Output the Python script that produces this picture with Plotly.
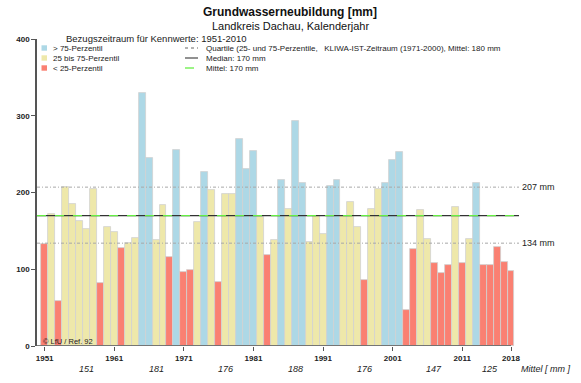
import plotly.graph_objects as go

# ---------------- data ----------------
years = list(range(1951, 2019))
values = [133, 172, 59, 207, 185, 163, 152, 205, 82, 155,
          148, 128, 134, 141, 330, 245, 138, 184, 116, 255,
          96, 99, 162, 227, 203, 83, 198, 198, 270, 230,
          254, 168, 119, 138, 216, 179, 293, 213, 136, 169,
          146, 208, 216, 169, 187, 155, 86, 179, 205, 212,
          243, 253, 47, 126, 177, 139, 108, 95, 106, 181,
          108, 139, 212, 105, 105, 129, 109, 98]
categories = ["L", "M", "L", "M", "M", "M", "M", "M", "L", "M",
              "M", "L", "M", "M", "H", "H", "M", "M", "L", "H",
              "L", "L", "M", "H", "M", "L", "M", "M", "H", "H",
              "H", "M", "L", "M", "H", "M", "H", "H", "M", "M",
              "M", "H", "H", "M", "M", "M", "L", "M", "M", "H",
              "H", "H", "L", "L", "M", "M", "L", "L", "L", "M",
              "L", "M", "H", "L", "L", "L", "L", "L"]
cat_labels = {"H": "> 75-Perzentil", "M": "25 bis 75-Perzentil", "L": "< 25-Perzentil"}
cat_colors = {"H": "#ADD8E6", "M": "#EEE8AA", "L": "#FA8072"}

q75 = 207
q25 = 134
median = 170
mean = 170
kliwa_mean = 180

x_ticks = [1951, 1961, 1971, 1981, 1991, 2001, 2011, 2018]
y_ticks = [0, 100, 200, 300, 400]

decade_starts = [1951, 1961, 1971, 1981, 1991, 2001, 2011]
decade_means = [151, 181, 176, 188, 176, 147, 125]

# ---------------- layout helpers ----------------
W, H = 581, 383
L, R, T, B = 37, 62, 39, 37
PW, PH = W - L - R, H - T - B
XMIN, XMAX = 1949.9, 2019.15


def px(x):
    return (x - L) / PW


def py(y):
    return (H - B - y) / PH


FONT = "Liberation Sans, Arial, sans-serif"

fig = go.Figure()
fig.add_trace(go.Bar(
    x=years, y=values, width=1.0,
    marker=dict(color=[cat_colors[c] for c in categories],
                line=dict(color="#d0d0d0", width=0.8)),
    showlegend=False, hoverinfo="x+y",
))

QDASH = "3px,2px,1px,2px"
shapes = []
# quartile lines
for q in (q75, q25):
    shapes.append(dict(type="line", xref="paper", yref="y", x0=0, x1=1, y0=q, y1=q,
                       line=dict(color="#a8a8a8", width=1, dash=QDASH)))
shapes.append(dict(type="line", xref="paper", yref="y", x0=0, x1=1, y0=median, y1=median,
                   line=dict(color="#333333", width=1.3)))
shapes.append(dict(type="line", xref="paper", yref="y", x0=0, x1=1, y0=mean, y1=mean,
                   line=dict(color="#66ee44", width=1.3, dash="dash")))
# x axis line
shapes.append(dict(type="line", xref="x", yref="y", x0=XMIN, x1=x_ticks[-1], y0=0, y1=0,
                   line=dict(color="#555555", width=1.5)))

annotations = []
# legend boxes
rows = [48, 58, 68]
for r, c in zip(rows, ["H", "M", "L"]):
    shapes.append(dict(type="rect", xref="paper", yref="paper",
                       x0=px(41.5), x1=px(47), y0=py(r - 2.7), y1=py(r + 2.7),
                       fillcolor=cat_colors[c], line=dict(width=0)))
    annotations.append(dict(x=px(50.5), y=py(r), xref="paper", yref="paper", text=cat_labels[c],
                            showarrow=False, xanchor="left", yanchor="middle",
                            font=dict(family=FONT, size=8, color="#222")))
# legend lines
line_styles = [dict(color="#666666", width=1, dash="dot"),
               dict(color="#555555", width=1.3),
               dict(color="#66ee44", width=1.3, dash="dash")]
line_texts = [f"Quartile (25- und 75-Perzentile,   KLIWA-IST-Zeitraum (1971-2000), Mittel: {kliwa_mean} mm",
              f"Median: {median} mm", f"Mittel: {mean} mm"]
for r, st, tx in zip(rows, line_styles, line_texts):
    shapes.append(dict(type="line", xref="paper", yref="paper",
                       x0=px(185), x1=px(198), y0=py(r), y1=py(r), line=st))
    annotations.append(dict(x=px(204), y=py(r), xref="paper", yref="paper", text=tx,
                            showarrow=False, xanchor="left", yanchor="middle",
                            font=dict(family=FONT, size=8, color="#222")))

annotations.append(dict(x=px(64), y=py(38.5), xref="paper", yref="paper",
                        text="Bezugszeitraum für Kennwerte: 1951-2010",
                        showarrow=False, xanchor="left", yanchor="middle",
                        font=dict(family=FONT, size=9.5, color="#222")))
# title
annotations.append(dict(x=px(290), y=py(12), xref="paper", yref="paper",
                        text="<b>Grundwasserneubildung [mm]</b>",
                        showarrow=False, xanchor="center", yanchor="middle",
                        font=dict(family=FONT, size=12, color="#111")))
annotations.append(dict(x=px(290), y=py(26), xref="paper", yref="paper",
                        text="Landkreis Dachau, Kalenderjahr",
                        showarrow=False, xanchor="center", yanchor="middle",
                        font=dict(family=FONT, size=11, color="#111")))
# right labels
for q in (q75, q25):
    annotations.append(dict(x=1, y=q, xref="paper", yref="y", text=f"{q} mm",
                            showarrow=False, xanchor="left", yanchor="middle", xshift=1,
                            font=dict(family=FONT, size=9, color="#222")))
# copyright
annotations.append(dict(x=px(41), y=py(341), xref="paper", yref="paper", text="© LfU / Ref. 92",
                        showarrow=False, xanchor="left", yanchor="middle",
                        font=dict(family=FONT, size=7.5, color="#222")))
# decade means
for i, (s, m) in enumerate(zip(decade_starts, decade_means)):
    xpos = s + 6 if i < len(decade_starts) - 1 else s + 4
    annotations.append(dict(x=xpos, y=py(369), xref="x", yref="paper", text=f"<i>{m}</i>",
                            showarrow=False, xanchor="center", yanchor="middle",
                            font=dict(family=FONT, size=9, color="#222")))
annotations.append(dict(x=px(545), y=py(369), xref="paper", yref="paper", text="<i>Mittel [ mm ]</i>",
                        showarrow=False, xanchor="center", yanchor="middle",
                        font=dict(family=FONT, size=9, color="#222")))

fig.update_layout(
    width=W, height=H,
    margin=dict(l=L, r=R, t=T, b=B, pad=0),
    paper_bgcolor="white", plot_bgcolor="white",
    bargap=0, showlegend=False,
    shapes=shapes, annotations=annotations,
    xaxis=dict(range=[XMIN, XMAX], tickvals=x_ticks, ticktext=[str(t) for t in x_ticks],
               showgrid=False, zeroline=False, showline=False,
               ticks="outside", ticklen=4, tickcolor="#555", tickwidth=1.2,
               tickfont=dict(family=FONT, size=8, color="#222", weight="bold")),
    yaxis=dict(range=[0, 400], tickvals=y_ticks, showgrid=False, zeroline=False,
               showline=True, linecolor="#555", linewidth=1.5,
               ticks="outside", ticklen=4, tickcolor="#555", tickwidth=1.2,
               tickfont=dict(family=FONT, size=8, color="#222", weight="bold")),
)

fig.write_html("out.html", config={"displayModeBar": False},
               post_script="document.body.style.margin='0';document.body.style.overflow='hidden';")
